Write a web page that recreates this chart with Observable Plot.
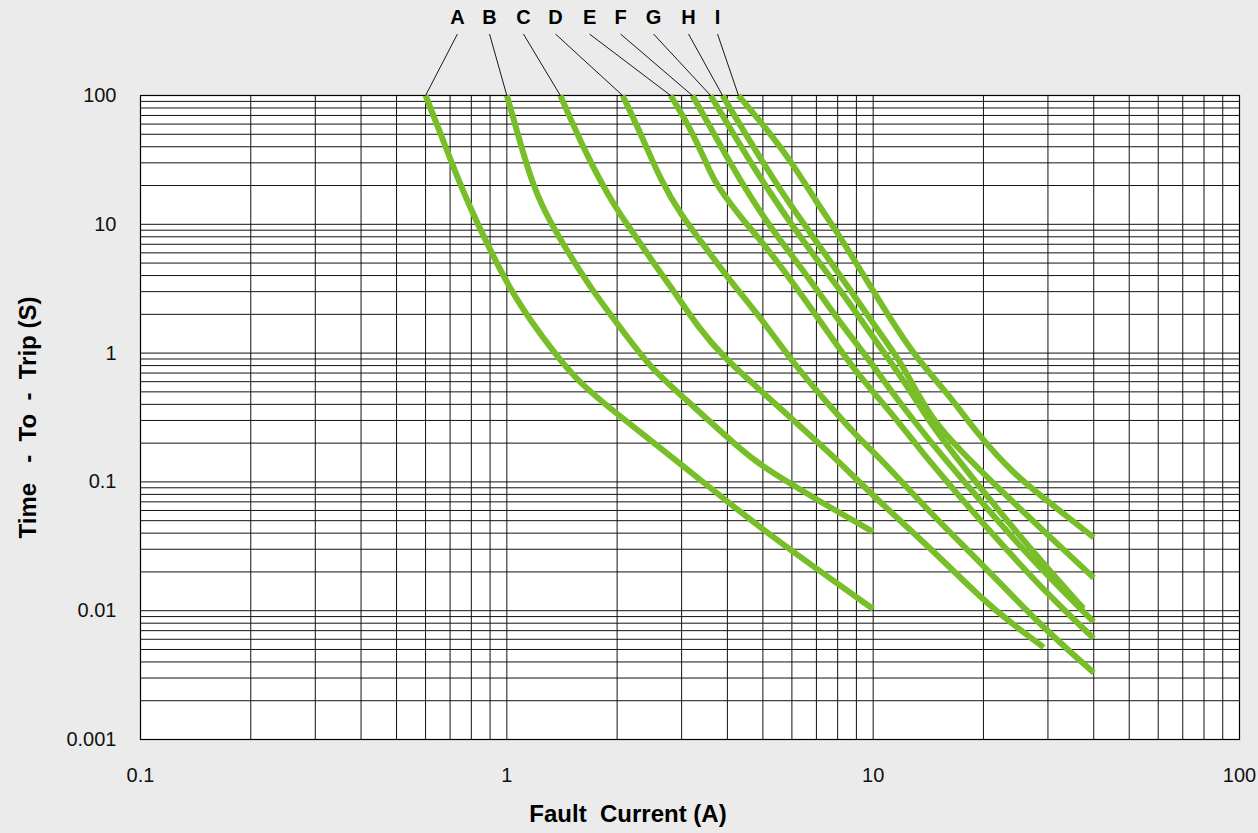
<!DOCTYPE html>
<html>
<head>
<meta charset="utf-8">
<script src="https://cdn.jsdelivr.net/npm/d3@7"></script>
<script src="https://cdn.jsdelivr.net/npm/@observablehq/plot@0.6"></script>
<style>
  body { margin: 0; background: #ebebeb; }
  #chart svg { display: block; }
</style>
</head>
<body>
<div id="chart"></div>
<script>
// ---- Data ----
const letters = ["A", "B", "C", "D", "E", "F", "G", "H", "I"];

// [fault current (A), time-to-trip (s)]
const curveA = [[0.60,100],[0.659,50.7],[0.724,25.2],[0.796,13.3],[0.875,7.48],[0.961,4.38],[1.056,2.70],[1.175,1.70],[1.333,1.05],[1.54,0.635],[1.8,0.428],[2.32,0.242],[3.04,0.132],[4.08,0.067],[5.35,0.037],[6.88,0.022],[10,0.0103]];
const curveB = [[1.0,100],[1.07,50.7],[1.18,19.3],[1.32,10.1],[1.46,6.26],[1.69,3.23],[2.0,1.70],[2.47,0.76],[3.04,0.452],[4.0,0.221],[4.83,0.139],[6.06,0.094],[7.65,0.063],[10,0.041]];
const curveC = [[1.40,100],[1.66,33],[1.98,13.3],[2.22,8.5],[2.52,4.96],[2.85,3.06],[3.32,1.6],[3.91,0.924],[4.93,0.512],[6.06,0.30],[7.51,0.175],[10.3,0.0717],[14.1,0.032],[20,0.012],[23.7,0.0081],[29.2,0.0052]];
const curveD = [[2.07,100],[2.32,50.7],[2.63,21.9],[3.02,11.3],[3.38,7.48],[4.0,3.86],[4.93,1.89],[6.06,0.83],[7.51,0.406],[9.24,0.21],[10.3,0.16],[14.1,0.06],[20,0.0224],[28.6,0.0077],[40,0.0033]];
const curveE = [[2.80,100],[3.23,50.7],[3.60,24.8],[3.78,19.3],[4.35,11.3],[5.02,7.10],[6.06,3.47],[7.05,1.89],[8.15,1.05],[9.24,0.647],[11.66,0.30],[13.47,0.175],[17.3,0.0757],[22.3,0.0332],[30.5,0.0127],[40,0.0061]];
const curveF = [[3.21,100],[3.60,56.4],[4.08,29.6],[4.63,16.2],[5.25,9.45],[6.06,5.52],[7.05,3.06],[8.15,1.70],[9.65,0.924],[11.16,0.512],[12.9,0.30],[15.0,0.175],[19.6,0.0717],[26.9,0.0254],[40,0.0082]];
const curveG = [[3.60,100],[4.0,60.6],[4.54,33.0],[5.25,17.3],[6.06,9.45],[7.05,5.23],[8.15,3.06],[9.41,1.70],[10.95,0.924],[12.26,0.581],[14.16,0.30],[16.3,0.175],[20.9,0.0717],[28.6,0.0245],[37.5,0.0104]];
const curveH = [[3.88,100],[4.26,63.9],[4.83,35.5],[5.59,18.3],[6.46,10.1],[7.51,5.52],[8.68,3.06],[10.0,1.70],[11.66,0.924],[12.65,0.613],[14.53,0.30],[17.3,0.175],[22.3,0.0857],[30.5,0.037],[40,0.018]];
const curveI = [[4.29,100],[5.08,56.4],[5.95,31.3],[6.96,15.3],[8.15,7.9],[9.24,4.38],[10.5,2.43],[12.9,0.958],[16.0,0.486],[19.6,0.221],[24.2,0.116],[28.6,0.0784],[40,0.037]];

// label positions (current) above the plot and their height (time, outside the axis domain)
const labelCurrents = [0.733, 0.897, 1.11, 1.358, 1.682, 2.044, 2.515, 3.133, 3.76];
const labelTime = 403;
const leaderTopTime = 300;

const xTicks = [0.1, 1, 10, 100];
const yTicks = [0.001, 0.01, 0.1, 1, 10, 100];
const xTitle = "Fault\u00a0 Current (A)";
const yTitle = "Time\u00a0\u00a0 - \u00a0To\u00a0 - \u00a0Trip (S)";

// ---- Derived tables ----
const curves = [curveA, curveB, curveC, curveD, curveE, curveF, curveG, curveH, curveI];
const lineData = curves.flatMap((c, i) => c.map(([x, y]) => ({curve: letters[i], x, y})));
const leaders = letters.map((l, i) => ({l, x1: labelCurrents[i], x2: curves[i][0][0], y2: curves[i][0][1]}));

function logGrid(lo, hi) {
  const out = [];
  for (let d = lo; d < hi * 0.999; d *= 10) for (let m = 1; m <= 9; m++) out.push(+(d * m).toPrecision(3));
  out.push(hi);
  return out;
}
const gridX = logGrid(0.1, 100);
const gridY = logGrid(0.001, 100);

const tickFont = "'Liberation Sans', Arial, sans-serif";
const boldFont = "'Liberation Sans', Arial, sans-serif";

const chart = Plot.plot({
  width: 1258,
  height: 833,
  marginLeft: 140,
  marginRight: 19,
  marginTop: 95,
  marginBottom: 94,
  style: {background: "transparent", overflow: "visible"},
  x: {type: "log", domain: [0.1, 100]},
  y: {type: "log", domain: [0.001, 100]},
  marks: [
    Plot.frame({fill: "white", stroke: null}),
    Plot.ruleX(gridX, {stroke: "#111", strokeWidth: 1}),
    Plot.ruleY(gridY, {stroke: "#111", strokeWidth: 1}),
    Plot.frame({stroke: "#000", strokeWidth: 1.2}),
    Plot.line(lineData, {x: "x", y: "y", z: "curve", stroke: "#77be28", strokeWidth: 6, strokeLinecap: "butt", curve: "basis"}),
    Plot.link(leaders, {x1: "x1", y1: () => leaderTopTime, x2: "x2", y2: "y2", stroke: "#000", strokeWidth: 0.9}),
    Plot.text(letters, {x: (d, i) => labelCurrents[i], y: () => labelTime, text: d => d, fontWeight: "bold", fontSize: 20, fontFamily: boldFont, fill: "#000"}),
    Plot.axisX(xTicks, {tickSize: 0, tickPadding: 28, tickFormat: d => String(d), fontSize: 20, fontFamily: tickFont, label: null, fill: "#111"}),
    Plot.axisY(yTicks, {tickSize: 0, tickPadding: 24, tickFormat: d => String(d), fontSize: 20, fontFamily: tickFont, label: null, fill: "#111"}),
    Plot.text([xTitle], {frameAnchor: "bottom", dx: -62, dy: 82, fontWeight: "bold", fontSize: 24, fontFamily: boldFont, fill: "#000"}),
    Plot.text([yTitle], {frameAnchor: "left", textAnchor: "middle", dx: -112, rotate: -90, fontWeight: "bold", fontSize: 24, fontFamily: boldFont, fill: "#000"})
  ]
});
document.getElementById("chart").appendChild(chart);
</script>
</body>
</html>
